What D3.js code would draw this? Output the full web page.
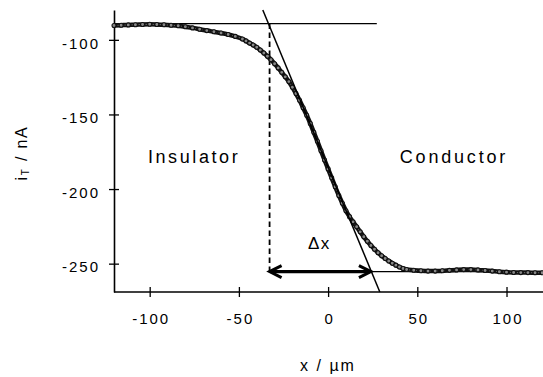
<!DOCTYPE html>
<meta charset="utf-8">
<script src="https://d3js.org/d3.v7.min.js"></script>

<style>
  body { margin: 0; background: #fff; }
  text { font-family: Arial, "Liberation Sans", sans-serif; fill: #000; }
</style>

<body>
  <svg id="vis"></svg>
</body>

<script>
  // x positions (um) and tip current (nA)
  var xPos = [-120, -116, -112, -108, -104, -100, -96, -92, -88, -84, -80, -76, -72, -68, -64, -60, -56, -52, -48, -46,
    -44, -42, -40, -38, -36, -34, -32, -30, -28, -26, -24, -22, -20, -18, -16, -14, -12, -10, -8, -6, -4, -2,
    0, 2, 4, 6, 8, 10, 12, 14, 16, 18, 20, 22, 24, 26, 28, 30, 32, 34, 36, 38, 40, 42, 44,
    48, 52, 56, 60, 64, 68, 72, 76, 80, 84, 88, 92, 96, 100, 104, 108, 112, 116, 120];
  var current = [-90.4, -90.2, -90.0, -89.9, -89.7, -89.6, -89.7, -89.9, -90.2, -90.6, -91.2, -92.0, -92.9, -93.8, -94.6, -95.4, -96.4, -97.7, -99.4, -100.7,
    -102.2, -103.5, -105.0, -106.8, -108.8, -111.0, -113.3, -116.0, -118.8, -121.8, -124.8, -128.0, -131.8, -136.0, -140.5, -145.5, -150.5, -156.0, -162.0, -168.0, -174.3, -180.5,
    -186.5, -192.5, -198.5, -204.3, -209.5, -214.5, -218.5, -222.0, -225.3, -228.7, -232.0, -235.0, -237.8, -240.3, -242.7, -244.7, -246.5, -248.2, -249.7, -251.0, -252.2, -253.2, -253.9,
    -254.4, -254.8, -255.0, -255.0, -254.8, -254.5, -254.2, -254.0, -254.0, -254.2, -254.6, -255.0, -255.4, -255.7, -255.9, -256.0, -256.0, -256.1, -256.1];

  var xTicks = [-100, -50, 0, 50, 100];
  var yTicks = [-100, -150, -200, -250];

  // construction lines of the step analysis
  var topLevel = -89.1;       // insulator plateau
  var bottomLevel = -255.3;   // conductor plateau
  var tangentPts = [[-36.6, -80], [29, -269]];
  var dxStart = -32.8, dxEnd = 24;

  var width = 543, height = 377;

  var svg = d3.select("#vis")
    .attr("width", width)
    .attr("height", height);

  // scaling
  var xscale = d3.scaleLinear()
    .domain([-120, 120])
    .range([114, 542.2]);

  var yscale = d3.scaleLinear()
    .domain([-269, -80])
    .range([292, 10]);

  // plain hyphen for negatives, like the original
  var fmt = function(d){ return String(d); };

  // X axis, ticks cross the line
  var x_axis = d3.axisBottom(xscale)
    .tickValues(xTicks)
    .tickFormat(fmt)
    .tickSize(5)
    .tickSizeOuter(0)
    .tickPadding(16);
  var gx = svg.append("g")
    .attr("transform", "translate(0," + yscale(-269) + ")")
    .call(x_axis);
  gx.select(".domain").attr("d", "M114,0H543").attr("stroke", "#000").attr("stroke-width", 1.6);
  gx.selectAll(".tick line").attr("y1", -5).attr("stroke-width", 1.3);
  gx.selectAll(".tick text")
    .attr("font-size", 15)
    .attr("letter-spacing", 2)
    .attr("dx", 1)
    .attr("font-family", null);

  // Y axis
  var y_axis = d3.axisLeft(yscale)
    .tickValues(yTicks)
    .tickFormat(fmt)
    .tickSize(5)
    .tickSizeOuter(0)
    .tickPadding(11);
  var gy = svg.append("g")
    .attr("transform", "translate(" + xscale(-120) + ",0)")
    .call(y_axis);
  gy.select(".domain").attr("stroke-width", 1.6);
  gy.selectAll(".tick line").attr("x1", 5).attr("stroke-width", 1.3);
  gy.selectAll(".tick text")
    .attr("font-size", 15)
    .attr("letter-spacing", 2)
    .attr("dy", "0.55em")
    .attr("dx", 2)
    .attr("font-family", null);

  // horizontal plateau lines
  svg.append("line")
    .attr("x1", xscale(-120)).attr("x2", xscale(27.3))
    .attr("y1", yscale(topLevel)).attr("y2", yscale(topLevel))
    .attr("stroke", "#000").attr("stroke-width", 1.3);
  svg.append("line")
    .attr("x1", xscale(dxEnd)).attr("x2", xscale(120))
    .attr("y1", yscale(bottomLevel)).attr("y2", yscale(bottomLevel))
    .attr("stroke", "#000").attr("stroke-width", 1.2);

  // dashed drop line
  svg.append("line")
    .attr("x1", xscale(dxStart)).attr("x2", xscale(dxStart))
    .attr("y1", yscale(topLevel)).attr("y2", yscale(bottomLevel))
    .attr("stroke", "#000").attr("stroke-width", 1.8)
    .attr("stroke-dasharray", "5.5,3.5");

  // data curve: dense hollow markers
  var pts = xPos.map(function(d, i){ return [d, current[i]]; });
  var line = d3.line()
    .x(function(d){ return xscale(d[0]); })
    .y(function(d){ return yscale(d[1]); })
    .curve(d3.curveMonotoneX);

  svg.append("path")
    .attr("d", line(pts))
    .attr("fill", "none")
    .attr("stroke", "#111")
    .attr("stroke-width", 4.5);
  svg.append("path")
    .attr("d", line(pts))
    .attr("fill", "none")
    .attr("stroke", "#666")
    .attr("stroke-width", 1)
    .attr("stroke-dasharray", "1.5,2");
  svg.selectAll(".pt")
    .data(pts)
    .enter().append("circle")
    .attr("class", "pt")
    .attr("cx", function(d){ return xscale(d[0]); })
    .attr("cy", function(d){ return yscale(d[1]); })
    .attr("r", 2)
    .attr("fill", "#888")
    .attr("stroke", "#111")
    .attr("stroke-width", 1.1);

  // tangent line
  svg.append("line")
    .attr("x1", xscale(tangentPts[0][0])).attr("y1", yscale(tangentPts[0][1]))
    .attr("x2", xscale(tangentPts[1][0])).attr("y2", yscale(tangentPts[1][1]))
    .attr("stroke", "#000").attr("stroke-width", 1.5);

  // double arrow for delta x
  var ay = yscale(bottomLevel),
      ax1 = xscale(dxStart),
      ax2 = xscale(dxEnd);
  svg.append("line")
    .attr("x1", ax1 + 1).attr("x2", ax2 - 1)
    .attr("y1", ay).attr("y2", ay)
    .attr("stroke", "#000").attr("stroke-width", 3.2);
  svg.append("path")
    .attr("d", "M" + (ax1 + 12) + "," + (ay - 6) + "L" + ax1 + "," + ay + "L" + (ax1 + 12) + "," + (ay + 6))
    .attr("fill", "none").attr("stroke", "#000").attr("stroke-width", 3)
    .attr("stroke-linejoin", "miter");
  svg.append("path")
    .attr("d", "M" + (ax2 - 12) + "," + (ay - 6) + "L" + ax2 + "," + ay + "L" + (ax2 - 12) + "," + (ay + 6))
    .attr("fill", "none").attr("stroke", "#000").attr("stroke-width", 3)
    .attr("stroke-linejoin", "miter");

  // region labels
  svg.append("text")
    .attr("x", xscale(-101)).attr("y", yscale(-182.5))
    .attr("font-size", 18).attr("letter-spacing", 2.6)
    .text("Insulator");
  svg.append("text")
    .attr("x", xscale(40.2)).attr("y", yscale(-182.5))
    .attr("font-size", 18).attr("letter-spacing", 2.8)
    .text("Conductor");
  svg.append("text")
    .attr("x", xscale(-11.3)).attr("y", yscale(-240.5))
    .attr("font-size", 17).attr("letter-spacing", 1.5)
    .text("Δx");

  // axis titles
  svg.append("text")
    .attr("text-anchor", "middle")
    .attr("x", 328).attr("y", 371)
    .attr("font-size", 16).attr("letter-spacing", 2)
    .text("x / µm");

  var ylab = svg.append("text")
    .attr("text-anchor", "middle")
    .attr("transform", "translate(27,153) rotate(-90)")
    .attr("font-size", 16).attr("letter-spacing", 1.8);
  ylab.append("tspan").text("i");
  ylab.append("tspan").attr("font-size", 10).attr("dy", 2).text("T");
  ylab.append("tspan").attr("dy", -2).text(" / nA");
</script>
